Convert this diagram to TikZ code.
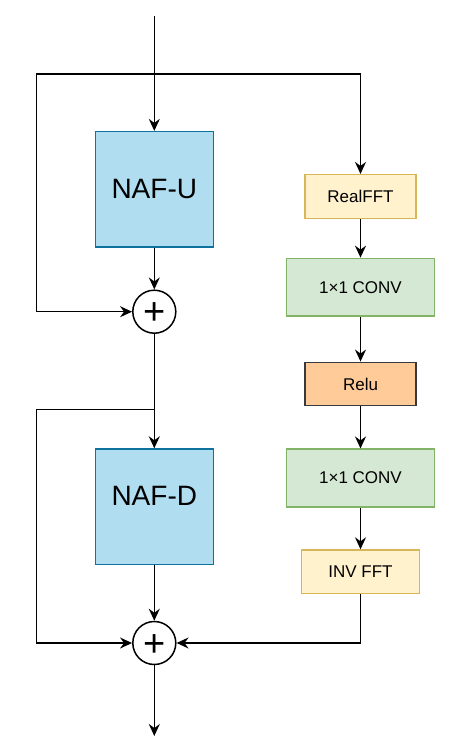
\documentclass[tikz,border=0pt]{standalone}
\usepackage{fontspec}
\setmainfont{Liberation Sans}
\usetikzlibrary{arrows.meta}
\definecolor{nafFill}{HTML}{B1DDF0}
\definecolor{nafLine}{HTML}{10739E}
\definecolor{fftFill}{HTML}{FFF2CC}
\definecolor{fftLine}{HTML}{D6B656}
\definecolor{convFill}{HTML}{D5E8D4}
\definecolor{convLine}{HTML}{82B366}
\definecolor{reluFill}{HTML}{FFCC99}
\definecolor{reluLine}{HTML}{36393D}
\tikzset{
  arr/.style={draw=black, line width=1.5pt, -{Stealth[length=12pt,width=11pt,inset=4pt]}},
  wire/.style={draw=black, line width=1.5pt},
  nafbox/.style={draw=nafLine, fill=nafFill, line width=1.5pt, minimum width=118pt, minimum height=115.3pt, inner sep=0pt},
  naftxt/.style={font=\fontsize{28}{28}\selectfont, inner sep=0pt},
  fftbox/.style={draw=fftLine, fill=fftFill, line width=1.5pt, inner sep=0pt, font=\fontsize{17}{17}\selectfont},
  convbox/.style={draw=convLine, fill=convFill, line width=1.5pt, inner sep=0pt, minimum width=147.6pt, minimum height=57.6pt, font=\fontsize{17}{17}\selectfont},
  relubox/.style={draw=reluLine, fill=reluFill, line width=1.5pt, inner sep=0pt, minimum width=111pt, minimum height=43.4pt, font=\fontsize{17}{17}\selectfont},
  sumnode/.style={circle, draw=black, fill=white, line width=1.5pt, minimum size=43pt, inner sep=0pt},
  plustxt/.style={font=\fontsize{38}{38}\selectfont, inner sep=0pt}
}
\begin{document}
\begin{tikzpicture}[x=1pt,y=-1pt]
\useasboundingbox (0,0) rectangle (454,743);
% main column
\node[nafbox] (nafu) at (154.3,189.3) {};
\node[naftxt] (nafut) at (nafu.center) {NAF-U};
\node[nafbox] (nafd) at (154.3,506.7) {};
\node[naftxt] (nafdt) at ([yshift=10.5pt]nafd.center) {NAF-D};
\node[sumnode] (p1) at (154.3,311.7) {};
\node[plustxt] (p1t) at ([yshift=-2.2pt]p1.center) {+};
\node[sumnode] (p2) at (154.3,643) {};
\node[plustxt] (p2t) at ([yshift=-2.2pt]p2.center) {+};
\coordinate (top) at (154.3,16);
\coordinate (out) at (154.3,736);
\coordinate (b1) at (154.3,74);
\coordinate (l1) at (36.7,74);
\coordinate (b2) at (154.3,409.3);
\coordinate (l2) at (36.7,409.3);
% right column
\node[fftbox, minimum width=111pt, minimum height=44pt] (fft) at (360.5,196.7) {RealFFT};
\node[convbox] (conv1) at (360.5,287.2) {1×1 CONV};
\node[relubox] (relu) at (360.5,384) {Relu};
\node[convbox] (conv2) at (360.5,478) {1×1 CONV};
\node[fftbox, minimum width=117.6pt, minimum height=43.3pt] (ifft) at (360.5,571.7) {INV FFT};
% connectors
\draw[arr] (top) -- (nafu.north);
\draw[arr] (b1) -| (fft.north);
\draw[arr] (b1) -- (l1) |- (p1.west);
\draw[arr] (nafu.south) -- (p1.north);
\draw[arr] (p1.south) -- (nafd.north);
\draw[arr] (b2) -- (l2) |- (p2.west);
\draw[arr] (nafd.south) -- (p2.north);
\draw[arr] (p2.south) -- (out);
\draw[arr] (fft.south) -- (conv1.north);
\draw[arr] (conv1.south) -- (relu.north);
\draw[arr] (relu.south) -- (conv2.north);
\draw[arr] (conv2.south) -- (ifft.north);
\draw[arr] (ifft.south) |- (p2.east);
\end{tikzpicture}
\end{document}
